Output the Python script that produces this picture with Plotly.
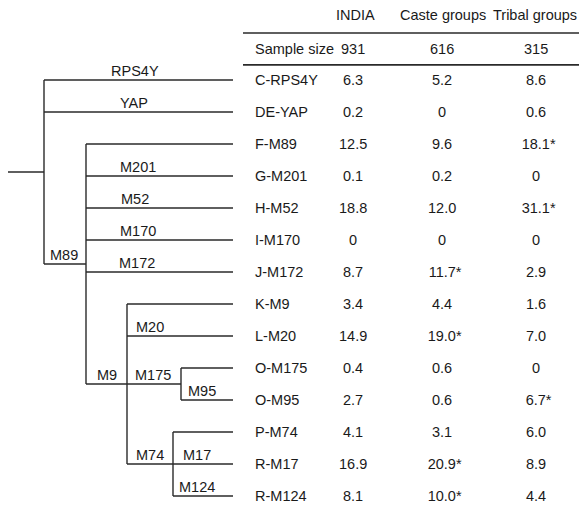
import plotly.graph_objects as go

# ---------------- data ----------------
haplogroups = ["C-RPS4Y", "DE-YAP", "F-M89", "G-M201", "H-M52", "I-M170", "J-M172",
               "K-M9", "L-M20", "O-M175", "O-M95", "P-M74", "R-M17", "R-M124"]
columns = ["INDIA", "Caste groups", "Tribal groups"]
sample_sizes = [931, 616, 315]
india = [6.3, 0.2, 12.5, 0.1, 18.8, 0, 8.7, 3.4, 14.9, 0.4, 2.7, 4.1, 16.9, 8.1]
caste = [5.2, 0, 9.6, 0.2, 12.0, 0, 11.7, 4.4, 19.0, 0.6, 0.6, 3.1, 20.9, 10.0]
tribal = [8.6, 0.6, 18.1, 0, 31.1, 0, 2.9, 1.6, 7.0, 0, 6.7, 6.0, 8.9, 4.4]
india_sig = [False] * 14
caste_sig = [False, False, False, False, False, False, True, False, True, False, False, False, True, True]
tribal_sig = [False, False, True, False, True, False, False, False, False, False, True, False, False, False]

# tree topology (clade -> ordered children)
clades = {
    "root": ["C-RPS4Y", "DE-YAP", "M89"],
    "M89": ["F-M89", "G-M201", "H-M52", "I-M170", "J-M172", "M9"],
    "M9": ["K-M9", "L-M20", "M175", "M74"],
    "M175": ["O-M175", "O-M95"],
    "M74": ["P-M74", "R-M17", "R-M124"],
}
branch_labels = {"C-RPS4Y": "RPS4Y", "DE-YAP": "YAP", "M89": "M89", "G-M201": "M201",
                 "H-M52": "M52", "I-M170": "M170", "J-M172": "M172", "M9": "M9",
                 "L-M20": "M20", "M175": "M175", "O-M95": "M95", "M74": "M74",
                 "R-M17": "M17", "R-M124": "M124"}

# ---------------- layout / style ----------------
W, H = 579, 506
ROW0_PX, ROW_PX = 80, 32
node_x = {"root": 44, "M89": 86, "M9": 127, "M175": 181, "M74": 173}
leaf_x = 233
root_stem_x = 8
label_x = {"RPS4Y": 135, "YAP": 134, "M89": 64, "M201": 138, "M52": 135, "M170": 138,
           "M172": 137, "M9": 107, "M20": 150, "M175": 153, "M95": 202, "M74": 150,
           "M17": 197, "M124": 197}
col_x = [353, 442, 536]
head_x = [355, 443, 535]
row_label_x = 253
table_x0 = 243
FONT = dict(family="Liberation Sans, Arial, sans-serif", size=14.5, color="#1a1a1a")
LINE_COLOR = "#2a2a2a"

# ---------------- tree geometry ----------------
leaf_y = {h: i for i, h in enumerate(haplogroups)}


def node_y(n):
    if n in leaf_y:
        return leaf_y[n]
    ch = clades[n]
    return (node_y(ch[0]) + node_y(ch[-1])) / 2


def node_xpos(n):
    return node_x[n] if n in clades else leaf_x


tx, ty = [], []
# root stem
tx += [root_stem_x, node_x["root"], None]
ty += [node_y("root"), node_y("root"), None]
for n, ch in clades.items():
    x0 = node_x[n]
    tx += [x0, x0, None]
    ty += [node_y(ch[0]), node_y(ch[-1]), None]
    for c in ch:
        tx += [x0, node_xpos(c), None]
        ty += [node_y(c), node_y(c), None]

fig = go.Figure()
fig.add_trace(go.Scatter(x=tx, y=ty, mode="lines", line=dict(color=LINE_COLOR, width=1.4),
                         hoverinfo="skip", showlegend=False))

# table rules
fig.add_trace(go.Scatter(x=[table_x0, W], y=[-1.47, -1.47], mode="lines",
                         line=dict(color=LINE_COLOR, width=1.4), hoverinfo="skip", showlegend=False))
fig.add_trace(go.Scatter(x=[table_x0, W], y=[-0.47, -0.47], mode="lines",
                         line=dict(color=LINE_COLOR, width=1.8), hoverinfo="skip", showlegend=False))

ann = []


def txt(x, y, s, anchor="center"):
    ann.append(dict(x=x, y=y, xref="x", yref="y", text=s, showarrow=False,
                    xanchor=anchor, yanchor="middle", font=FONT))


# branch labels
for child, lab in branch_labels.items():
    txt(label_x[lab], node_y(child) - 0.27, lab)

# header
for cx, name in zip(head_x, columns):
    txt(cx, -2.03, name)
txt(row_label_x, -0.97, "Sample size", "left")
for cx, n in zip(col_x, sample_sizes):
    txt(cx, -0.97, str(n))


def fmt(v, sig):
    s = "0" if v == 0 else f"{v:.1f}"
    if sig:
        s = "<span style='color:rgba(0,0,0,0)'>*</span>" + s + "*"
    return s


for i, h in enumerate(haplogroups):
    txt(row_label_x, i, h, "left")
    for cx, vals, sigs in zip(col_x, [india, caste, tribal], [india_sig, caste_sig, tribal_sig]):
        txt(cx, i, fmt(vals[i], sigs[i]))

fig.update_layout(
    width=W, height=H, margin=dict(l=0, r=0, t=0, b=0, pad=0),
    paper_bgcolor="white", plot_bgcolor="white",
    xaxis=dict(range=[0, W], visible=False, fixedrange=True),
    yaxis=dict(range=[(H - ROW0_PX) / ROW_PX, (0 - ROW0_PX) / ROW_PX], visible=False, fixedrange=True),
    annotations=ann, showlegend=False,
)
fig.write_html("out.html", config={"displayModeBar": False},
               post_script="document.body.style.margin='0';document.body.style.overflow='hidden';")
